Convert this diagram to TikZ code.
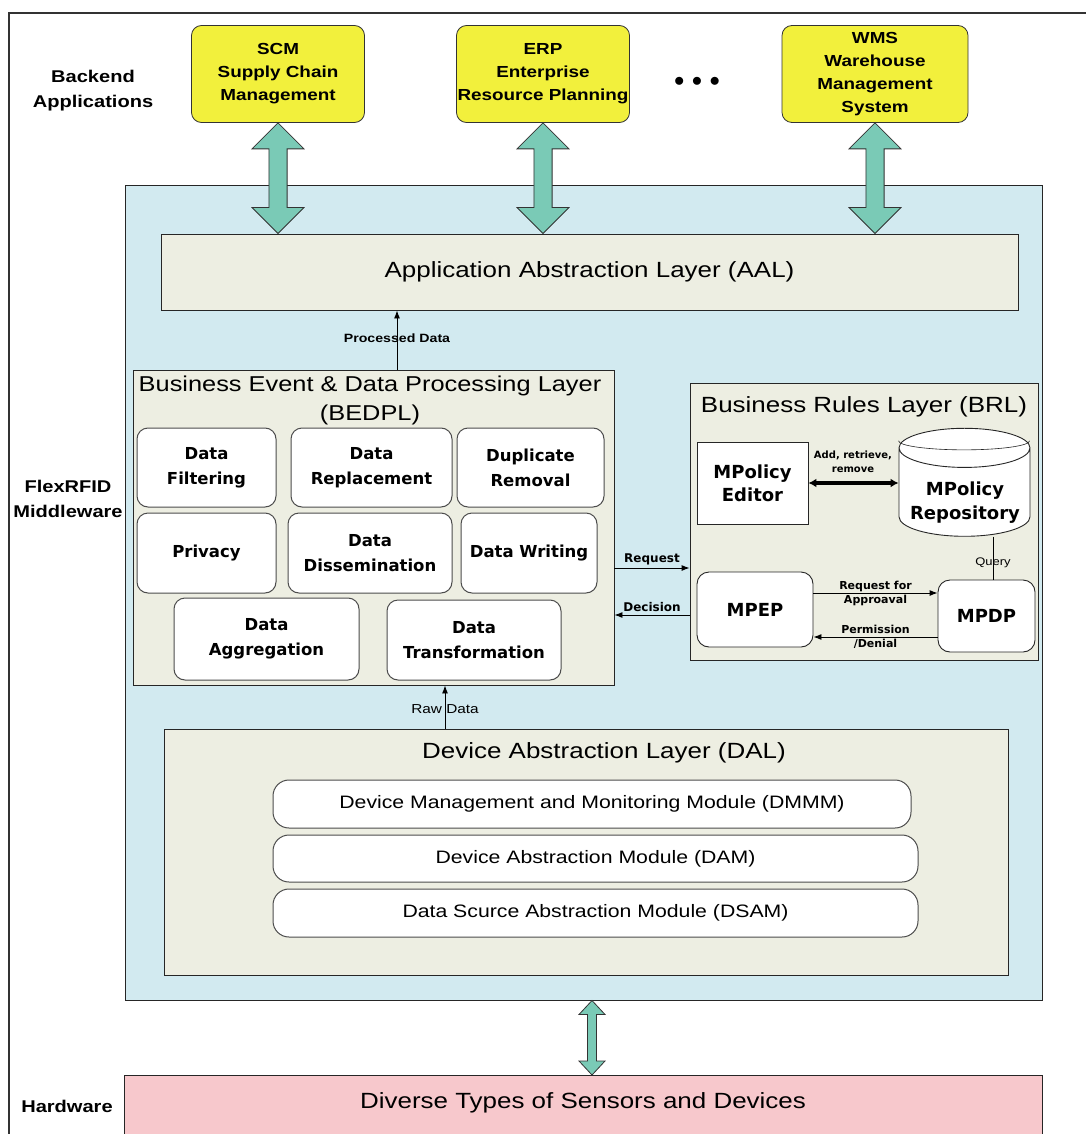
\documentclass[tikz,border=0pt]{standalone}
\usepackage{fontspec}
\setmainfont[FakeStretch=1.18]{Liberation Sans}
\newfontfamily\verd{DejaVu Sans}
\usetikzlibrary{arrows.meta}
\usetikzlibrary{calc}
\usetikzlibrary{shapes.geometric}

\definecolor{appyellow}{RGB}{242,240,60}
\definecolor{midblue}{RGB}{210,234,240}
\definecolor{layerbeige}{RGB}{237,238,226}
\definecolor{hwpink}{RGB}{247,200,204}
\definecolor{arrowteal}{RGB}{122,202,182}

% fat two-headed arrow between a box above and a box below
\newcommand{\fatarrow}[4]{%
\draw[draw=black!80,fill=arrowteal,line width=0.8pt]
  let \p1=(#1), \p2=(#2) in
  (\x1,\y1) -- (\x1+#3,\y1-#4) -- (\x1+#3*0.35,\y1-#4) -- (\x1+#3*0.35,\y2+#4)
  -- (\x1+#3,\y2+#4) -- (\x1,\y2) -- (\x1-#3,\y2+#4) -- (\x1-#3*0.35,\y2+#4)
  -- (\x1-#3*0.35,\y1-#4) -- (\x1-#3,\y1-#4) -- cycle;}

\begin{document}
\begin{tikzpicture}[x=1pt,y=-1pt,
  every node/.style={color=black,align=center,inner sep=1pt},
  appbox/.style={draw=black!80,line width=0.8pt,fill=appyellow,rounded corners=10pt,font=\fontsize{16}{23}\selectfont\bfseries},
  layer/.style={draw=black!85,line width=0.9pt,fill=layerbeige},
  module/.style={draw=black!70,line width=1pt,fill=white,rounded corners=11pt,font=\verd\bfseries\fontsize{16.5}{25}\selectfont},
  pill/.style={draw=black!70,line width=1pt,fill=white,rounded corners=16pt,font=\fontsize{18}{20}\selectfont},
  brlbox/.style={draw=black!85,line width=0.9pt,fill=white,font=\verd\bfseries\fontsize{18}{23}\selectfont},
  sidetext/.style={font=\fontsize{17}{25}\selectfont\bfseries},
  small/.style={font=\verd\bfseries\fontsize{11}{14}\selectfont},
  flow/.style={-{Latex[length=8pt,width=6pt]},line width=0.9pt}]
\useasboundingbox (0,0) rectangle (1086,1134);
\draw[black!80,line width=1.2pt] (9,1134) -- (9,13) -- (1086,13);

% backend applications
\node[sidetext](backend) at (93, 91) {Backend\\Applications};
\node[appbox,minimum width=173,minimum height=97](scm) at (278, 74) {SCM\\Supply Chain\\Management};
\node[appbox,minimum width=170,minimum height=97](erp) at (543, 74) {ERP\\Enterprise\\Resource Planning};
\node[appbox,minimum width=186,minimum height=97](wms) at (875, 74) {WMS\\Warehouse\\Management\\System};
\node[font=\fontsize{22}{22}\selectfont\bfseries](dots) at (697, 82) {$\bullet$\,\,$\bullet$\,\,$\bullet$};

% middleware
\node[draw=black!85,line width=1pt,fill=midblue,minimum width=917,minimum height=814](mw) at (583.5, 593) {};
\node[sidetext](mwtext) at (68, 499) {FlexRFID\\Middleware};
\node[layer,minimum width=857,minimum height=76,font=\fontsize{22}{26}\selectfont](aal) at (589.5, 272) {Application Abstraction Layer (AAL)};

\fatarrow{scm.south}{aal.north}{26pt}{26pt}
\fatarrow{erp.south}{aal.north}{26pt}{26pt}
\fatarrow{wms.south}{aal.north}{26pt}{26pt}

% BEDPL
\node[layer,minimum width=481,minimum height=315](bedpl) at (373.5, 527.5) {};
\node[font=\fontsize{21.5}{29}\selectfont](bedpltitle) at (370, 400) {Business Event \& Data Processing Layer\\(BEDPL)};
\node[module,minimum width=139,minimum height=79](filt) at (206.5, 467.5) {Data\\Filtering};
\node[module,minimum width=161,minimum height=79](repl) at (371.5, 467.5) {Data\\Replacement};
\node[module,minimum width=147,minimum height=79](dup) at (530.5, 467.5) {Duplicate\\Removal};
\node[module,minimum width=139,minimum height=80](priv) at (206.5, 553) {Privacy};
\node[module,minimum width=164,minimum height=80](diss) at (370, 553) {Data\\Dissemination};
\node[module,minimum width=136,minimum height=80](writ) at (529, 553) {Data Writing};
\node[module,minimum width=185,minimum height=82](aggr) at (266.5, 639) {Data\\Aggregation};
\node[module,minimum width=174,minimum height=80](trans) at (474, 640) {Data\\Transformation};

% BRL
\node[layer,minimum width=348,minimum height=277](brl) at (864, 521.5) {};
\node[font=\fontsize{22}{24}\selectfont](brltitle) at (864, 407) {Business Rules Layer (BRL)};
\node[brlbox,minimum width=111,minimum height=82](editor) at (752.5, 483) {MPolicy\\Editor};
\node[brlbox,cylinder,shape border rotate=90,aspect=0.35,minimum width=131,minimum height=108](repo) at (964.5, 494) {\phantom{MPolicy}\\\phantom{Repository}};
\draw[black!85,line width=0.6pt] ($(repo.before top)+(0,-7)$) arc[start angle=180,end angle=360,x radius=65.5pt,y radius=9pt];
\node[font=\verd\bfseries\fontsize{18}{24}\selectfont](repotext) at (965, 503) {MPolicy\\Repository};
\node[brlbox,rounded corners=12pt,minimum width=116,minimum height=75](mpep) at (755, 609.5) {MPEP};
\node[brlbox,rounded corners=12pt,minimum width=97,minimum height=72](mpdp) at (986.5, 616) {MPDP};

\draw[{Latex[length=8pt,width=9pt]}-{Latex[length=8pt,width=9pt]},line width=3.5pt] (editor) -- (repo.west |- editor);
\node[small,font=\verd\bfseries\fontsize{10}{14}\selectfont](addlbl) at (853, 462) {Add, retrieve,\\remove};
\draw[flow] (mpep.east |- 0,593) -- (mpdp.west |- 0,593) node[midway,small]{Request for\\Approaval};
\draw[flow] (mpdp.west |- 0,637) -- (mpep.east |- 0,637) node[midway,small]{Permission\\/Denial};
\draw[line width=0.9pt] (repo.south -| 993,0) -- (mpdp.north -| 993,0) node[pos=0.6,font=\fontsize{11}{12}\selectfont]{Query};

% between layers
\draw[flow] (bedpl.east |- 0,568) -- (brl.west |- 0,568) node[midway,above=2pt,small,font=\verd\bfseries\fontsize{12}{14}\selectfont]{Request};
\draw[flow] (brl.west |- 0,615) -- (bedpl.east |- 0,615) node[midway,above=2pt,small,font=\verd\bfseries\fontsize{12}{14}\selectfont]{Decision};
\draw[flow] (bedpl.north -| 397,0) -- (aal.south -| 397,0) node[pos=0.53,font=\fontsize{12}{14}\selectfont\bfseries]{Processed Data};

% DAL
\node[layer,minimum width=844,minimum height=246](dal) at (586, 852) {};
\node[font=\fontsize{22}{26}\selectfont](daltitle) at (604, 753) {Device Abstraction Layer (DAL)};
\node[pill,minimum width=638,minimum height=48](dmmm) at (592, 804) {Device Management and Monitoring Module (DMMM)};
\node[pill,minimum width=645,minimum height=47](dam) at (595.5, 858.5) {Device Abstraction Module (DAM)};
\node[pill,minimum width=645,minimum height=48](dsam) at (595.5, 913) {Data Scurce Abstraction Module (DSAM)};
\draw[flow] (dal.north -| 445,0) -- (bedpl.south -| 445,0) node[pos=0.45,font=\fontsize{13}{14}\selectfont]{Raw Data};

% hardware
\node[draw=black!85,line width=1pt,fill=hwpink,minimum width=918,minimum height=70,anchor=north](hw) at (583.5, 1075) {};
\node[font=\fontsize{22}{26}\selectfont](hwtext) at (583, 1103) {Diverse Types of Sensors and Devices};
\node[sidetext](hwlbl) at (67, 1106) {Hardware};
\fatarrow{mw.south -| 592,0}{hw.north -| 592,0}{13pt}{14pt}
\end{tikzpicture}
\end{document}
